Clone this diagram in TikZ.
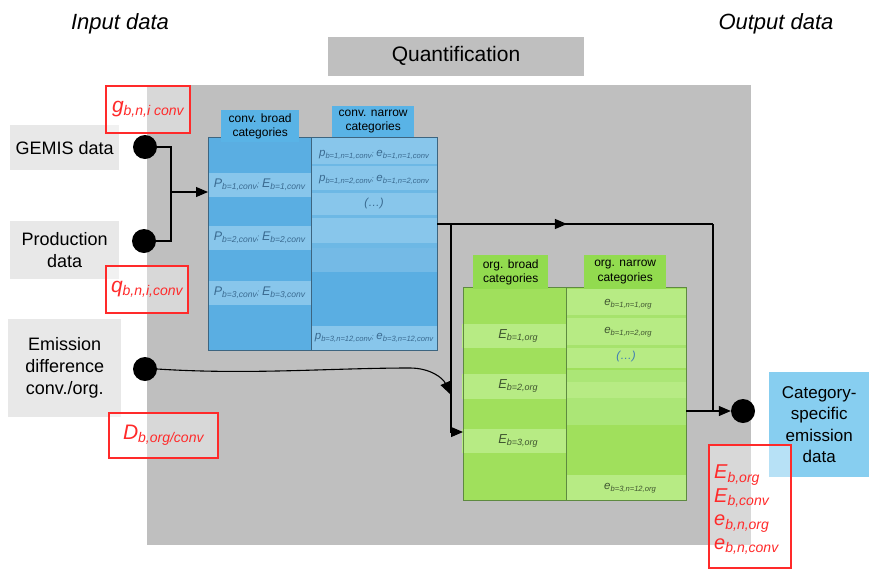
\documentclass[tikz,border=0pt]{standalone}
\usepackage{fontspec}
\setmainfont{Liberation Sans}
\usetikzlibrary{arrows.meta,calc,decorations.markings}
\definecolor{bggray}{HTML}{BFBFBF}
\definecolor{ingray}{HTML}{E8E8E8}
\definecolor{bluebase}{HTML}{5AAEE2}
\definecolor{bluelight}{HTML}{88C6EB}
\definecolor{bluesep}{HTML}{6DB8E5}
\definecolor{bluemid}{HTML}{74BAE6}
\definecolor{bluehead}{HTML}{59B3E6}
\definecolor{blueedge}{HTML}{3D6580}
\definecolor{bluetext}{HTML}{3A6A90}
\definecolor{greenbase}{HTML}{A0E05C}
\definecolor{greenlight}{HTML}{B7EB84}
\definecolor{greensep}{HTML}{A6E36C}
\definecolor{greenmid}{HTML}{ABE676}
\definecolor{greenhead}{HTML}{92DB4F}
\definecolor{greenedge}{HTML}{5E8A40}
\definecolor{greentext}{HTML}{3F5530}
\definecolor{dotsblue}{HTML}{3D7AB5}
\definecolor{outblue}{HTML}{87CEF0}
\definecolor{redc}{HTML}{FF2A2A}
\newcommand\vsub[4]{{\fontsize{#3}{#3}\selectfont #1}{\fontsize{#4}{#4}\selectfont\raisebox{-0.45ex}{#2}}}
\newcommand\semi[1]{{\fontsize{#1}{#1}\selectfont;}}
\begin{document}
\begin{tikzpicture}[x=1pt,y=-1pt,
  inbox/.style={fill=ingray, align=center, font=\fontsize{18}{22}\selectfont, inner sep=0pt, anchor=north west},
  redbox/.style={draw=redc, line width=1.6pt, fill=white, fill opacity=0.4, text opacity=1, text=redc, font=\itshape, inner sep=0pt, anchor=north west},
  blackdot/.style={circle, fill=black, minimum size=24pt, inner sep=0pt},
  hdrblue/.style={fill=bluehead, align=center, font=\fontsize{12}{14.5}\selectfont, inner sep=0pt, anchor=north west},
  hdrgreen/.style={fill=greenhead, align=center, font=\fontsize{12}{14.5}\selectfont, inner sep=0pt, anchor=north west},
  tabcell/.style={inner sep=0pt, anchor=north west},
  btext/.style={text=bluetext, font=\itshape, inner sep=0pt},
  gtext/.style={text=greentext, font=\itshape, inner sep=0pt},
  conn/.style={line width=1.1pt},
  arr/.style={-{Triangle[length=12pt,width=10pt]}},
  midarrow/.style={postaction={decorate}, decoration={markings, mark=at position #1 with {\arrow{Triangle[length=12pt,width=10pt]}}}}
]
\useasboundingbox (0,0) rectangle (869,568);
\fill[white] (0,0) rectangle (869,568);

% titles
\node[font=\itshape\fontsize{22}{25}\selectfont] (inlabel) at (120,24) {Input data};
\node[font=\itshape\fontsize{22}{25}\selectfont] (outlabel) at (776,24) {Output data};
\node[fill=bggray, minimum width=256pt, minimum height=39pt, inner sep=0pt, font=\fontsize{21}{24}\selectfont] (quant) at (456,56) {Quantification};

% main gray area
\node[fill=bggray, minimum width=604pt, minimum height=460pt, inner sep=0pt, anchor=north west] (main) at (147,85) {};

% input boxes
\node[inbox, minimum width=109pt, minimum height=45pt] (gemis) at (10,125) {GEMIS data};
\node[inbox, minimum width=109pt, minimum height=58pt] (prod) at (10,221) {Production\\data};
\node[inbox, minimum width=113pt, minimum height=98pt] (emis) at (8,319) {Emission\\difference\\conv./org.};

% blue table
\node[tabcell, fill=bluebase, minimum width=103pt, minimum height=213pt] (bb) at (208,137) {};
\node[tabcell, fill=bluelight, minimum width=126pt, minimum height=213pt] (bn) at (311,137) {};
\fill[bluelight] (208,173) rectangle (311,197);
\fill[bluelight] (208,226) rectangle (311,250);
\fill[bluelight] (208,281) rectangle (311,305);
\fill[bluesep] (311,164) rectangle (437,166);
\fill[bluesep] (311,190) rectangle (437,193);
\fill[bluesep] (311,215) rectangle (437,218);
\fill[bluesep] (311,243) rectangle (437,248);
\fill[bluemid] (311,248) rectangle (437,272);
\fill[bluebase] (311,272) rectangle (437,326);
\draw[blueedge, line width=0.7pt] (bb.north west) rectangle (bn.south east);
\draw[blueedge, line width=0.7pt] (bb.north east) -- (bb.south east);
\node[hdrblue, minimum width=78pt, minimum height=32pt] (bbh) at (221,110) {conv. broad\\categories};
\node[hdrblue, minimum width=82pt, minimum height=31pt] (bnh) at (332,106) {conv. narrow\\categories};

\node[btext] (pb1) at (259.5,185) {\vsub{P}{b=1,conv}{12.5}{8.5}\semi{8.5} \vsub{E}{b=1,conv}{12.5}{8.5}};
\node[btext] (pb2) at (259.5,238) {\vsub{P}{b=2,conv}{12.5}{8.5}\semi{8.5} \vsub{E}{b=2,conv}{12.5}{8.5}};
\node[btext] (pb3) at (259.5,293) {\vsub{P}{b=3,conv}{12.5}{8.5}\semi{8.5} \vsub{E}{b=3,conv}{12.5}{8.5}};
\node[btext] (pn1) at (374,155) {\vsub{p}{b=1,n=1,conv}{11.5}{7.6}\semi{7.6} \vsub{e}{b=1,n=1,conv}{11.5}{7.6}};
\node[btext] (pn2) at (374,180) {\vsub{p}{b=1,n=2,conv}{11.5}{7.6}\semi{7.6} \vsub{e}{b=1,n=2,conv}{11.5}{7.6}};
\node[btext, font=\itshape\fontsize{11.5}{12}\selectfont] (pn3) at (374,204) {(\dots)};
\node[btext] (pn4) at (374,338) {\vsub{p}{b=3,n=12,conv}{11.5}{7.6}\semi{7.6} \vsub{e}{b=3,n=12,conv}{11.5}{7.6}};

% green table
\node[tabcell, fill=greenbase, minimum width=103pt, minimum height=213pt] (gb) at (463,287) {};
\node[tabcell, fill=greenbase, minimum width=120pt, minimum height=213pt] (gn) at (566,287) {};
\fill[greenlight] (462,324) rectangle (566,348);
\fill[greenlight] (462,374) rectangle (566,399);
\fill[greenlight] (462,429) rectangle (566,453);
\fill[greenlight] (566,289) rectangle (686,368);
\fill[greensep] (566,315) rectangle (686,318);
\fill[greensep] (566,345) rectangle (686,348);
\fill[greenmid] (566,370) rectangle (686,425);
\fill[greenlight] (566,382) rectangle (686,398);
\fill[greenlight] (566,475) rectangle (686,500);
\draw[greenedge, line width=0.7pt] (gb.north west) rectangle (gn.south east);
\draw[greenedge, line width=0.7pt] (gb.north east) -- (gb.south east);
\node[hdrgreen, minimum width=75pt, minimum height=34pt] (gbh) at (473,255) {org. broad\\categories};
\node[hdrgreen, minimum width=82pt, minimum height=34pt] (gnh) at (584,255) {org. narrow\\categories};

\node[gtext] (eb1) at (518,336) {\vsub{E}{b=1,org}{13}{9}};
\node[gtext] (eb2) at (518,386) {\vsub{E}{b=2,org}{13}{9}};
\node[gtext] (eb3) at (518,441) {\vsub{E}{b=3,org}{13}{9}};
\node[gtext] (en1) at (628,304) {\vsub{e}{b=1,n=1,org}{11.5}{7.6}};
\node[gtext] (en2) at (628,332) {\vsub{e}{b=1,n=2,org}{11.5}{7.6}};
\node[gtext, text=dotsblue, font=\itshape\fontsize{11.5}{12}\selectfont] (en3) at (626,357) {(\dots)};
\node[gtext] (en4) at (630,488) {\vsub{e}{b=3,n=12,org}{11.5}{7.6}};

% dots
\node[blackdot] (d1) at (145,147) {};
\node[blackdot] (d2) at (144,241) {};
\node[blackdot] (d3) at (145,369) {};
\node[blackdot] (d4) at (743,411) {};

% output box
\node[fill=outblue, anchor=north west, minimum width=100pt, minimum height=105pt, inner sep=0pt, align=center, font=\fontsize{17}{21.5}\selectfont] (outbox) at (769,372) {Category-\\specific\\emission\\data};

% connectors
\coordinate (jtop) at (171,147);
\coordinate (jbot) at (171,241);
\coordinate (jn) at (171,192);
\draw[conn] (d1.east) -- (jtop) -- (jbot) -- (d2.east);
\draw[conn,arr] (jn) -- (bb.west |- jn);

\coordinate (split) at (451,224);
\coordinate (tr) at (713,224);
\coordinate (gin) at (451,432);
\draw[conn,midarrow=0.47] (bn.east |- split) -- (tr);
\draw[conn] (tr) -- (tr |- d4);
\draw[conn,arr] (split) -- (gin) -- (gb.west |- gin);
\draw[conn,arr] (gn.east |- d4) -- (d4.west);
\draw[conn,arr] (d3.east) .. controls (250,375) and (330,368) .. (410,368) .. controls (430,368) and (443,378) .. (450,394);

% red boxes
\node[redbox, minimum width=84pt, minimum height=47pt] (gbox) at (105,85) {\vsub{g}{b,n,i conv}{21}{14}};
\node[redbox, minimum width=82pt, minimum height=47pt] (qbox) at (105,265) {\vsub{q}{b,n,i,conv}{21}{14}};
\node[redbox, minimum width=109pt, minimum height=45pt] (dbox) at (108,412) {\vsub{D}{b,org/conv}{21}{14}};
\node[redbox, minimum width=82pt, minimum height=123pt] (ebox) at (708,444) {};
\node[anchor=north west, inner sep=0pt, align=left, text=redc, font=\itshape\fontsize{20}{23.5}\selectfont] (etext) at (714,465) {%
  \vsub{E}{b,org}{20}{14}\\\vsub{E}{b,conv}{20}{14}\\\vsub{e}{b,n,org}{20}{14}\\\vsub{e}{b,n,conv}{20}{14}};
\end{tikzpicture}
\end{document}
